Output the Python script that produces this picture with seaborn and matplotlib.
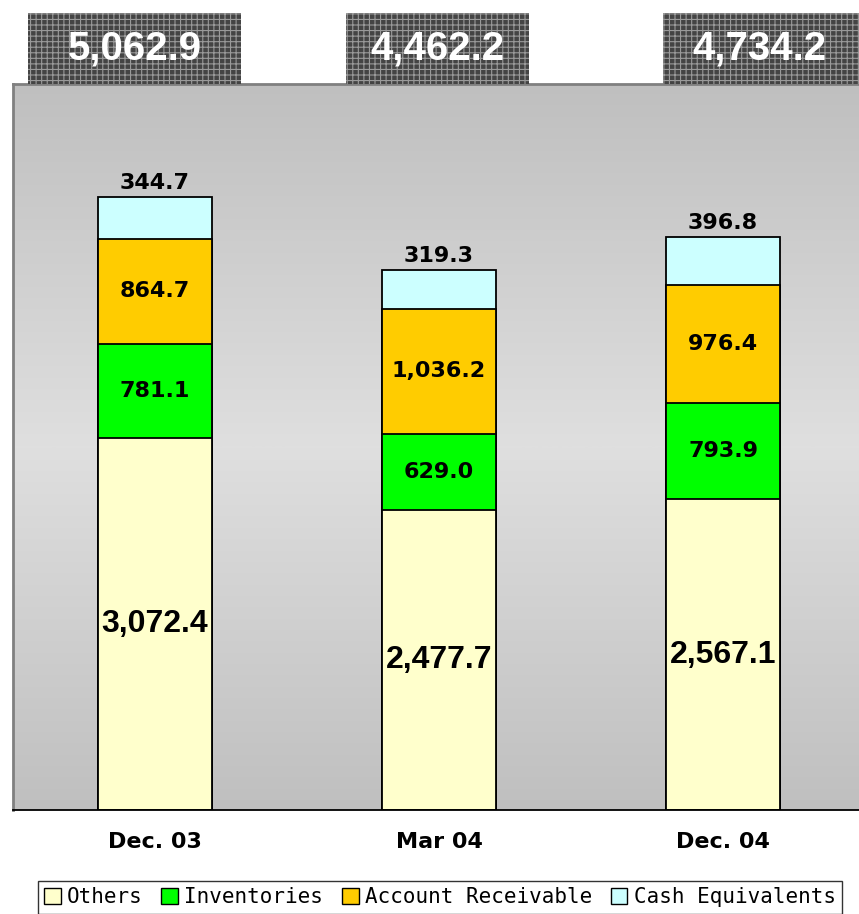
import numpy as np
import pandas as pd
import seaborn as sns
from matplotlib import pyplot as plt
from matplotlib.patches import Rectangle
from matplotlib.transforms import blended_transform_factory

# data
periods = ['Dec. 03', 'Mar 04', 'Dec. 04']
series = ['Others', 'Inventories', 'Account Receivable', 'Cash Equivalents']
others = [3072.4, 2477.7, 2567.1]
inventories = [781.1, 629.0, 793.9]
receivable = [864.7, 1036.2, 976.4]
cash = [344.7, 319.3, 396.8]
colors = ['#FFFFCC', '#00FF00', '#FFCC00', '#CCFFFF']


def main():
    sns.set_style('white')
    plt.rcParams['font.family'] = ['DejaVu Sans']
    plt.rcParams['text.color'] = 'black'
    plt.rcParams['xtick.color'] = 'black'
    plt.rcParams['hatch.linewidth'] = 0.8

    df = pd.DataFrame({'period': periods, 'Others': others, 'Inventories': inventories,
                       'Account Receivable': receivable, 'Cash Equivalents': cash})
    cum = df[series].cumsum(axis=1)
    totals = cum['Cash Equivalents'].values

    fig = plt.figure(figsize=(8.59, 9.14), dpi=100)
    ax = fig.add_axes([13 / 859, 104 / 914, 852 / 859, 726 / 914])

    # gradient background, dark at top/bottom and light in the middle
    g = np.linspace(0, 1, 256)
    shade = 0.75 + 0.125 * (1 - np.abs(g - 0.5) * 2)
    img = np.repeat(shade[:, None, None], 3, axis=2)
    ax.imshow(img, extent=[-0.5, 2.5, 0, 6000], aspect='auto', zorder=0,
              interpolation='bilinear')

    # stacked bars: draw cumulative totals from top layer down
    for name, col in zip(series[::-1], colors[::-1]):
        sns.barplot(x=df['period'], y=cum[name], color=col, edgecolor='black',
                    linewidth=1.3, width=0.4, saturation=1, ax=ax, zorder=2)

    ax.set_xlim(-0.5, 2.5)
    ax.set_ylim(0, 6000)

    # segment labels
    for i in range(len(periods)):
        base = 0
        for name in series[:-1]:
            v = df[name][i]
            big = name == 'Others'
            ax.text(i, base + v / 2, f'{v:,.1f}', ha='center', va='center',
                    fontsize=23 if big else 16, fontweight='bold',
                    family=['Liberation Sans', 'DejaVu Sans'] if big else ['DejaVu Sans'],
                    color='black', zorder=5)
            base += v
        ax.annotate(f'{cash[i]:,.1f}', (i, totals[i]), xytext=(0, 3),
                    textcoords='offset points', ha='center', va='bottom',
                    fontsize=16, fontweight='bold', color='black', zorder=5)

    # total boxes on top
    trans = blended_transform_factory(ax.transData, ax.transAxes)
    boxes = [(-0.447, 0.303), (0.673, 1.317), (1.789, 2.6)]
    for i, (x0, x1) in enumerate(boxes):
        r = Rectangle((x0, 1.0), x1 - x0, 0.098, transform=trans, clip_on=False,
                      facecolor='#444444', edgecolor='#9a9a9a', hatch='+++',
                      linewidth=0, zorder=3)
        ax.add_patch(r)
        xc = (x0 + 2.47) / 2 if i == 2 else (x0 + x1) / 2
        ax.text(xc, 1.049, f'{totals[i]:,.1f}', transform=trans, ha='center',
                va='center', color='white', fontsize=29, fontweight='bold',
                family=['Liberation Sans', 'DejaVu Sans'], clip_on=False, zorder=4)

    # axes styling
    for side in ['top', 'left']:
        ax.spines[side].set_color('#808080')
        ax.spines[side].set_linewidth(2)
    ax.spines['right'].set_visible(False)
    ax.spines['bottom'].set_color('black')
    ax.spines['bottom'].set_linewidth(1.3)
    ax.set_yticks([])
    ax.set_xlabel('')
    ax.set_ylabel('')
    ax.set_xticks([-0.5, 0.5, 1.5, 2.5], minor=True)
    ax.tick_params(axis='x', which='minor', direction='in', length=5, width=1, color='#555555')
    ax.tick_params(axis='x', which='major', length=0, pad=16)
    for lbl in ax.get_xticklabels():
        lbl.set_fontsize(16)
        lbl.set_fontweight('bold')
        lbl.set_color('black')

    handles = [Rectangle((0, 0), 1, 1, facecolor=c, edgecolor='black', linewidth=1) for c in colors]
    leg = fig.legend(handles, series, loc='upper center', bbox_to_anchor=(0.512, 0.036),
                     ncol=4, frameon=True, fancybox=False, handlelength=0.8, handleheight=0.8,
                     handletextpad=0.3, columnspacing=0.9, borderpad=0.3, borderaxespad=0,
                     prop={'family': 'DejaVu Sans Mono', 'size': 15})
    leg.get_frame().set_edgecolor('black')
    leg.get_frame().set_linewidth(1)
    for t in leg.get_texts():
        t.set_color('black')

    fig.savefig('out.png', dpi=100)


if __name__ == "__main__":
    main()
